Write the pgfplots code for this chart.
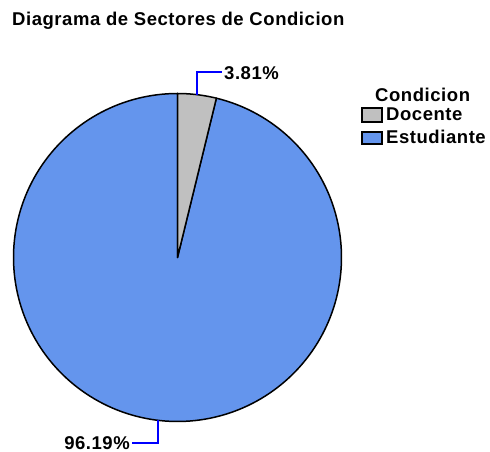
\documentclass[border=0pt]{standalone}
\usepackage{pgfplots}
\pgfplotsset{compat=1.18}
\usepackage{fontspec}
\setmainfont{Liberation Sans}
\newfontfamily\spaced[LetterSpace=3]{Liberation Sans}
\definecolor{docgray}{RGB}{192,192,192}
\definecolor{estblue}{RGB}{100,149,237}
\definecolor{leadblue}{RGB}{0,0,255}
\tikzset{lbl/.style={font=\spaced\fontsize{18.5}{20}\selectfont\bfseries, inner sep=0pt}}
% data: percentages
\newcommand{\pctDoc}{3.81}
\newcommand{\pctEst}{96.19}
\begin{document}
\begin{tikzpicture}
\pgfmathsetmacro{\aEnd}{90-3.6*\pctDoc}
\pgfmathsetmacro{\aMidA}{90-1.8*\pctDoc}
\pgfmathsetmacro{\aMidB}{\aEnd-1.8*\pctEst}
\begin{axis}[
  width=490pt, height=452pt, scale only axis,
  xmin=0, xmax=490, ymin=0, ymax=452,
  hide axis, clip=false,
]
\path (axis cs:0,0) rectangle (axis cs:490,452);
% Estudiante sector
\addplot[fill=estblue, draw=black, line width=1.5pt, line join=round, domain=-270:\aEnd, samples=200, variable=\t]
  ({177.5+164*cos(\t)},{194.5+164*sin(\t)}) -- (axis cs:177.5,194.5) -- cycle;
% Docente sector
\addplot[fill=docgray, draw=black, line width=1.5pt, line join=round, domain=\aEnd:90, samples=20, variable=\t]
  ({177.5+164*cos(\t)},{194.5+164*sin(\t)}) -- (axis cs:177.5,194.5) -- cycle;
% leader lines
\draw[leadblue, line width=1.3pt] (axis cs:{177.5+164*cos(\aMidA)},{194.5+164*sin(\aMidA)}) -- (axis cs:{177.5+164*cos(\aMidA)},380) -- (axis cs:222,380);
\draw[leadblue, line width=1.3pt] (axis cs:{177.5+164*cos(\aMidB)},{194.5+164*sin(\aMidB)}) -- (axis cs:{177.5+164*cos(\aMidB)},9) -- (axis cs:132,9);
\node[lbl, anchor=west] at (axis cs:224,379) {3.81\%};
\node[lbl, anchor=east] at (axis cs:130,9) {96.19\%};
% title
\node[lbl, anchor=base west] at (axis cs:12,426) {Diagrama de Sectores de Condicion};
% legend
\node[lbl, anchor=base west] at (axis cs:375,350) {Condicion};
\draw[fill=docgray, draw=black, line width=1.2pt] (axis cs:362,330) rectangle (axis cs:382,344);
\node[lbl, anchor=base west] at (axis cs:386,331) {Docente};
\draw[fill=estblue, draw=black, line width=1.2pt] (axis cs:362,308) rectangle (axis cs:382,320);
\node[lbl, anchor=base west] at (axis cs:386,308) {Estudiante};
\end{axis}
\end{tikzpicture}
\end{document}
